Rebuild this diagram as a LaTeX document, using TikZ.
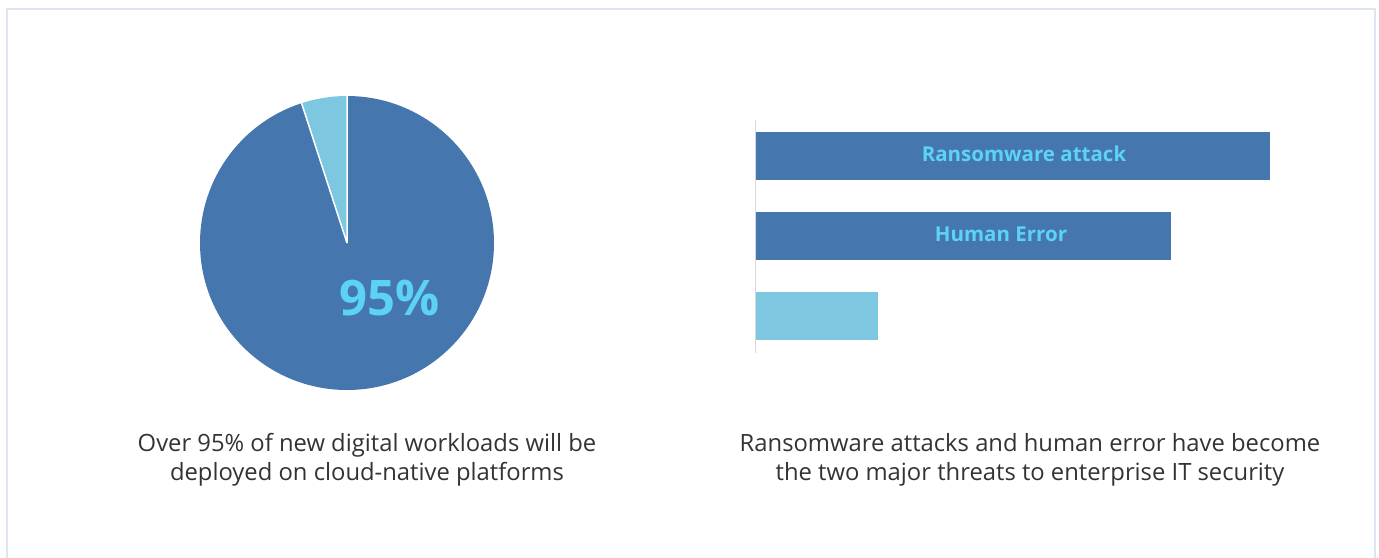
\documentclass[tikz,border=0pt]{standalone}
\usepackage{fontspec}
\setmainfont{Open Sans}
\definecolor{frame}{HTML}{DDE6EE}
\definecolor{barblue}{HTML}{4577AE}
\definecolor{lightblue}{HTML}{7DC8E0}
\definecolor{labelcyan}{HTML}{5CD2F6}
\definecolor{captext}{HTML}{333333}
\definecolor{axisgray}{HTML}{D9D9D9}
\tikzset{
  darkbar/.style={fill=barblue, draw=none},
  lightbar/.style={fill=lightblue, draw=none},
  barlabel/.style={text=labelcyan, font=\fontsize{20.5}{24}\selectfont\bfseries},
  caption/.style={text=captext, align=center, font=\fontsize{23.8}{29}\selectfont}
}
\begin{document}
\begin{tikzpicture}[x=1pt,y=-1pt]
  \useasboundingbox (0,0) rectangle (1379,557);
  % outer panel
  \draw[frame, line width=2.5pt] (7,570) -- (7,9) -- (1375,9) -- (1375,570);

  % pie chart: 95% / 5% (y runs downward, so angles are negated)
  \coordinate (pc) at (347,243);
  \fill[barblue] (pc) -- ++(-90:147) arc[start angle=-90, end angle=252, radius=147] -- cycle;
  \fill[lightblue] (pc) -- ++(-90:147) arc[start angle=-90, end angle=-108, radius=147] -- cycle;
  \draw[white, line width=1.5pt] (pc) -- ++(-90:148) (pc) -- ++(-108:148);
  \node[text=labelcyan, font=\fontsize{49}{56}\selectfont\bfseries] (pct) at (390,298) {95\%};

  % bar chart
  \coordinate (axtop) at (755,120);
  \coordinate (axbot) at (755,353);
  \draw[axisgray, line width=1pt] (axtop) -- (axbot);
  \fill[darkbar] (756,132) rectangle (1270,180);
  \fill[darkbar] (756,212) rectangle (1171,260);
  \fill[lightbar] (756,292) rectangle (878,340);
  \node[barlabel] (ra) at (1024,154) {Ransomware attack};
  \node[barlabel] (he) at (1001,234) {Human Error};

  % captions
  \node[caption] (capl) at (367,460) {Over 95\% of new digital workloads will be\\deployed on cloud-native platforms};
  \node[caption] (capr) at (1030,460) {Ransomware attacks and human error have become\\the two major threats to enterprise IT security};
\end{tikzpicture}
\end{document}
